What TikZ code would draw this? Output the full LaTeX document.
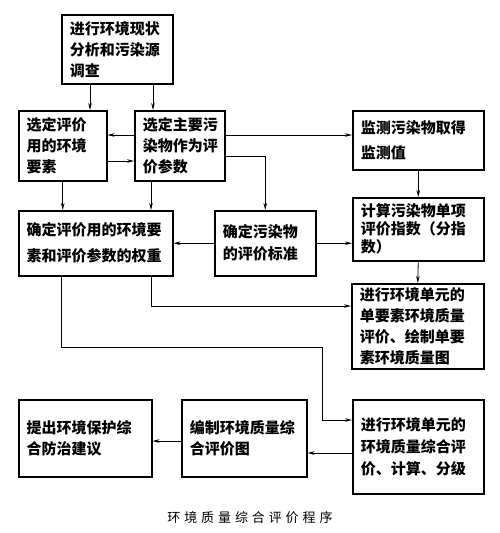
\documentclass[tikz,border=0pt]{standalone}
\usepackage{fontspec}
\usepackage{tikz}
\setmainfont{Noto Sans CJK SC}
\newfontfamily\captionfont{Noto Sans CJK SC}[LetterSpace=30]
\usetikzlibrary{arrows.meta, positioning, calc}

\begin{document}
\begin{tikzpicture}[
    x=1pt, y=-1pt,
    box/.style={rectangle, draw, line width=1.5pt, anchor=north west, align=left, inner xsep=8pt, inner ysep=0pt, font=\fontsize{15pt}{21pt}\selectfont\bfseries},
    arr/.style={line width=0.8pt, -{Stealth[length=7pt, width=3.5pt]}}
]
    \useasboundingbox (0,0) rectangle (500,533);

    % Top
    \node[box, text width=95pt, minimum height=69pt] (survey) at (61,14) {进行环境现状\\分析和污染源\\调查};

    % Second row
    \node[box, text width=72pt, minimum height=70pt] (element) at (18,110) {选定评价\\用的环境\\要素};
    \node[box, text width=74pt, minimum height=70pt] (param) at (134,110) {选定主要污\\染物作为评\\价参数};
    \node[box, text width=115pt, minimum height=59pt, font=\fontsize{15pt}{25pt}\selectfont\bfseries] (monitor) at (352,110) {监测污染物取得\\监测值};

    % Third row
    \node[box, text width=138pt, minimum height=65pt, font=\fontsize{15pt}{26pt}\selectfont\bfseries] (weight) at (18,210) {确定评价用的环境要\\素和评价参数的权重};
    \node[box, text width=85pt, minimum height=65pt, font=\fontsize{15pt}{22pt}\selectfont\bfseries] (standard) at (214,210) {确定污染物\\的评价标准};
    \node[box, text width=115pt, minimum height=63pt, font=\fontsize{15pt}{18pt}\selectfont\bfseries] (index) at (352,197) {计算污染物单项\\评价指数（分指\\数）};

    % Right column
    \node[box, text width=116pt, minimum height=85pt] (single) at (351,283) {进行环境单元的\\单要素环境质量\\评价、绘制单要\\素环境质量图};
    \node[box, text width=115pt, minimum height=94pt, font=\fontsize{15pt}{22pt}\selectfont\bfseries] (synth) at (352,399) {进行环境单元的\\环境质量综合评\\价、计算、分级};

    % Bottom row
    \node[box, text width=109pt, minimum height=77pt] (map) at (181,399) {编制环境质量综\\合评价图};
    \node[box, text width=117pt, minimum height=77pt] (advice) at (18,399) {提出环境保护综\\合防治建议};

    \node[font=\fontsize{13pt}{15pt}\captionfont] (caption) at (250,518) {环境质量综合评价程序};

    % Connectors
    \draw[arr] ([xshift=29pt]survey.south west) -- ([xshift=29pt]survey.south west |- element.north);
    \draw[arr] ([xshift=92pt]survey.south west) -- ([xshift=92pt]survey.south west |- param.north);
    \draw[arr] ([yshift=-25pt]param.north west) -- ([yshift=-25pt]param.north west -| element.east);
    \draw[arr] ([yshift=-51pt]element.north east) -- ([yshift=-51pt]element.north east -| param.west);
    \draw[arr] ([yshift=-25pt]param.north east) -- ([yshift=-25pt]param.north east -| monitor.west);
    \draw[arr] ([yshift=-46pt]param.north east) -| (standard.north);
    \draw[arr] (element.south) -- (element.south |- weight.north);
    \draw[arr] ([xshift=17pt]param.south west) -- ([xshift=17pt]param.south west |- weight.north);
    \draw[arr] (standard.west) -- (weight.east);
    \draw[arr] (standard.east) -- (standard.east -| index.west);
    \draw[arr] (monitor.south) -- (index.north);
    \draw[arr] (index.south) -- (single.north);
    \draw[arr] ([xshift=133pt]weight.south west) |- ([yshift=-23pt]single.north west);
    \coordinate (bend) at (322,347);
    \draw[arr] ([xshift=43pt]weight.south west) |- (bend) |- ([yshift=-21pt]synth.north west);
    \draw[arr] ([yshift=-54pt]synth.north west) -- ([yshift=-54pt]synth.north west -| map.east);
    \draw[arr] ([yshift=-42pt]map.north west) -- ([yshift=-42pt]map.north west -| advice.east);
\end{tikzpicture}
\end{document}
